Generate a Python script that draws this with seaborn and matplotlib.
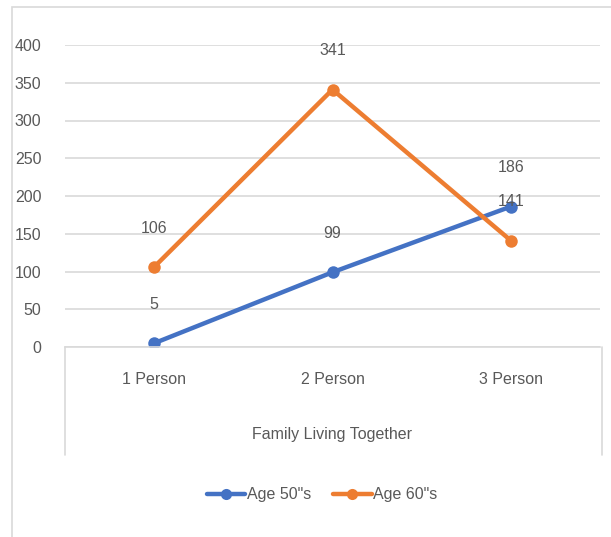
import matplotlib
matplotlib.use("Agg")
import matplotlib.pyplot as plt
from matplotlib.lines import Line2D
from matplotlib.patches import Rectangle
import seaborn as sns
import pandas as pd

# data
categories = ["1 Person", "2 Person", "3 Person"]
series_names = ['Age 50"s', 'Age 60"s']
age50 = [5, 99, 186]
age60 = [106, 341, 141]
y_ticks = [0, 50, 100, 150, 200, 250, 300, 350, 400]

colors = {'Age 50"s': "#4472C4", 'Age 60"s': "#ED7D31"}
text_grey = "#595959"
fs = 11.5

df = pd.DataFrame({
    "category": categories * 2,
    "value": age50 + age60,
    "series": [series_names[0]] * 3 + [series_names[1]] * 3,
})

sns.set_style("white")
plt.rcParams["font.family"] = ["Liberation Sans Narrow", "Liberation Sans", "DejaVu Sans"]

fig = plt.figure(figsize=(6.11, 5.37), dpi=100)
ax = fig.add_axes([65 / 611, 1 - 347 / 537, 535 / 611, 302 / 537])

sns.lineplot(data=df, x="category", y="value", hue="series", palette=colors,
             marker="o", markersize=9, markeredgewidth=0, linewidth=3.2,
             ax=ax, legend=False, sort=False)

# data labels above each point
for name, vals in zip(series_names, [age50, age60]):
    for i, v in enumerate(vals):
        ax.annotate(str(v), (i, v), xytext=(0, 28), textcoords="offset points",
                    ha="center", va="center", fontsize=fs, color=text_grey)

ax.set_xlim(-0.5, 2.5)
ax.set_ylim(0, 400)
ax.set_yticks(y_ticks)
ax.set_yticklabels([str(t) for t in y_ticks], fontsize=fs, color=text_grey)
ax.grid(axis="y", color="#D9D9D9", linewidth=1.2)
ax.set_axisbelow(True)
for side in ["top", "right", "left"]:
    ax.spines[side].set_visible(False)
ax.spines["bottom"].set_color("#D9D9D9")
ax.spines["bottom"].set_linewidth(1.2)
ax.tick_params(axis="both", length=0, pad=18)
ax.tick_params(axis="y", pad=17)
ax.set_xticks(range(len(categories)))
ax.set_xticklabels(categories, fontsize=fs, color=text_grey)
ax.set_xlabel("")
ax.set_ylabel("")

fig.text(332 / 611, 1 - 435 / 537, "Family Living Together", ha="center", va="center",
         fontsize=fs, color=text_grey)

# category axis box lines
for x in [65, 602]:
    fig.add_artist(Line2D([x / 611, x / 611], [1 - 347 / 537, 1 - 455 / 537],
                          color="#D9D9D9", linewidth=1.2))

# outer chart frame
fig.add_artist(Rectangle((12 / 611, -0.1), 1.2, 1 - 7 / 537 + 0.1, fill=False,
                         edgecolor="#D9D9D9", linewidth=1.2, transform=fig.transFigure))

handles = [Line2D([], [], color=colors[n], marker="o", markersize=8,
                  markeredgewidth=0, linewidth=3.2) for n in series_names]
fig.legend(handles, series_names, loc="center", bbox_to_anchor=(322 / 611, 1 - 495 / 537),
           ncol=2, frameon=False, fontsize=fs, handlelength=2.4, handletextpad=0.1,
           columnspacing=1.4, labelcolor=text_grey)

fig.savefig("out.png", dpi=100)
